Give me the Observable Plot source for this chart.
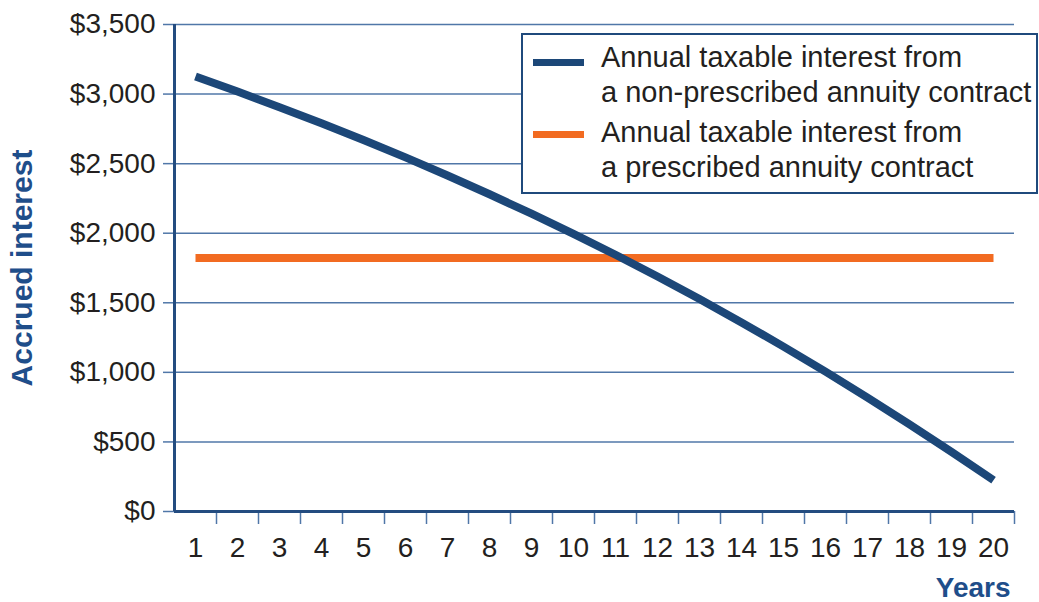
<!DOCTYPE html>
<html>
<head>
<meta charset="utf-8">
<script src="https://cdn.jsdelivr.net/npm/d3@7"></script>
<script src="https://cdn.jsdelivr.net/npm/@observablehq/plot@0.6"></script>
<style>
  html, body { margin: 0; padding: 0; background: #ffffff; }
  #wrap { position: relative; width: 1039px; height: 602px; overflow: hidden; font-family: "Liberation Sans", Arial, Helvetica, sans-serif; }
  #legend { position: absolute; left: 521px; top: 33px; width: 517px; height: 161px; box-sizing: border-box; border: 2px solid #1f4a7c; background: #ffffff; }
  .item { position: absolute; left: 78px; font-size: 29px; line-height: 35px; color: #231f20; white-space: nowrap; }
  .sw { position: absolute; left: 10px; width: 51px; height: 7px; }
</style>
</head>
<body>
<div id="wrap"></div>
<script>
// ---- data ----
const years = [1, 2, 3, 4, 5, 6, 7, 8, 9, 10, 11, 12, 13, 14, 15, 16, 17, 18, 19, 20];
const nonPrescribed = [3126, 3018, 2906, 2790, 2670, 2545, 2415, 2280, 2140, 1995, 1845, 1689, 1527, 1359, 1185, 1005, 819, 627, 429, 225];
const prescribed = [1822, 1822, 1822, 1822, 1822, 1822, 1822, 1822, 1822, 1822, 1822, 1822, 1822, 1822, 1822, 1822, 1822, 1822, 1822, 1822];
const yTicks = [0, 500, 1000, 1500, 2000, 2500, 3000, 3500];
const seriesNames = [
  ["Annual taxable interest from", "a non-prescribed annuity contract"],
  ["Annual taxable interest from", "a prescribed annuity contract"]
];
const xDomain = [0.5, 20.5];
const yDomain = [0, 3500];
const yLabel = "Accrued interest";
const xLabel = "Years";

const navy = "#1c4778";
const orange = "#f26b21";
const axisColor = "#234c80";
const gridColor = "#5077a8";
const labelColor = "#1f4e8a";
const textColor = "#231f20";

const data = years.map((year, i) => ({ year, nonPrescribed: nonPrescribed[i], prescribed: prescribed[i] }));
const bandEdges = years.map(d => d + 0.5);

const chart = Plot.plot({
  width: 1039,
  height: 602,
  marginLeft: 174,
  marginRight: 25,
  marginTop: 24,
  marginBottom: 91,
  x: { domain: xDomain },
  y: { domain: yDomain },
  style: { fontFamily: "'Liberation Sans', Arial, Helvetica, sans-serif", fontSize: "28px", color: textColor, background: "#ffffff", overflow: "visible" },
  marks: [
    Plot.gridY(yTicks, { stroke: gridColor, strokeOpacity: 1, strokeWidth: 1.5 }),
    Plot.axisY(yTicks, { tickSize: 11, tickPadding: 8, stroke: gridColor, strokeWidth: 1.5, fill: textColor, tickFormat: d => "$" + d3.format(",")(d), label: null }),
    Plot.axisX(bandEdges, { tickSize: 13, tickPadding: 0, stroke: gridColor, strokeWidth: 1.5, tickFormat: () => "", label: null }),
    Plot.axisX(years, { tickSize: 0, tickPadding: 26, fill: textColor, tickFormat: d => String(d), label: null }),
    Plot.ruleX([xDomain[0]], { stroke: axisColor, strokeWidth: 3 }),
    Plot.ruleY([yDomain[0]], { stroke: axisColor, strokeWidth: 3 }),
    Plot.line(data, { x: "year", y: "prescribed", stroke: orange, strokeWidth: 8, strokeLinecap: "butt" }),
    Plot.line(data, { x: "year", y: "nonPrescribed", stroke: navy, strokeWidth: 8, strokeLinecap: "butt", curve: "monotone-x" }),
    Plot.text([yLabel], { frameAnchor: "left", textAnchor: "middle", rotate: -90, dx: -152, fontWeight: "bold", fill: labelColor, fontSize: 30 }),
    Plot.text([xLabel], { frameAnchor: "bottom-right", textAnchor: "end", dx: -4, dy: 85, fontWeight: "bold", fill: labelColor, fontSize: 28 })
  ]
});

const wrap = document.getElementById("wrap");
wrap.appendChild(chart);

const legend = document.createElement("div");
legend.id = "legend";
const swColors = [navy, orange];
const itemTops = [5, 80];
const swTops = [24, 96];
seriesNames.forEach((lines, i) => {
  const sw = document.createElement("div");
  sw.className = "sw";
  sw.style.top = swTops[i] + "px";
  sw.style.background = swColors[i];
  legend.appendChild(sw);
  const it = document.createElement("div");
  it.className = "item";
  it.style.top = itemTops[i] + "px";
  it.innerHTML = lines.join("<br>");
  legend.appendChild(it);
});
wrap.appendChild(legend);
</script>
</body>
</html>
